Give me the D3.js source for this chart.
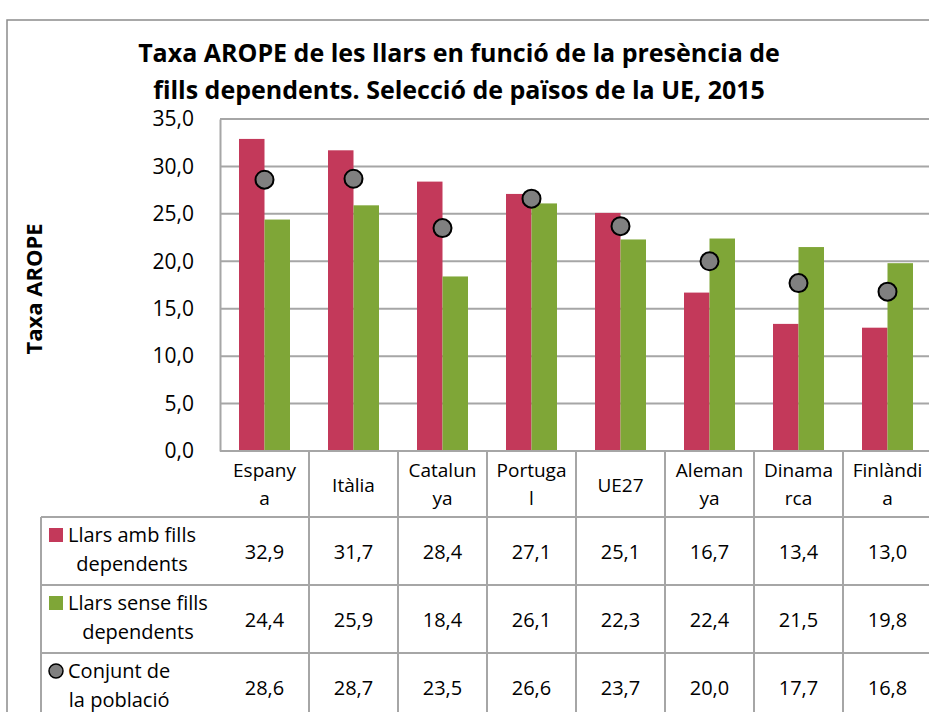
<!DOCTYPE html>
<html>
<head>
<meta charset="utf-8">
<script src="https://cdn.jsdelivr.net/npm/d3@7"></script>
<style>
  body { margin: 0; background: #fff; }
  svg { display: block; font-family: "Open Sans", sans-serif; }
</style>
</head>
<body>
<div id="chart"></div>
<script>
// data
const countries = ["Espanya", "Itàlia", "Catalunya", "Portugal", "UE27", "Alemanya", "Dinamarca", "Finlàndia"];
const countryLines = [["Espany", "a"], ["Itàlia"], ["Catalun", "ya"], ["Portuga", "l"], ["UE27"], ["Aleman", "ya"], ["Dinama", "rca"], ["Finlàndi", "a"]];
const ambFills = [32.9, 31.7, 28.4, 27.1, 25.1, 16.7, 13.4, 13.0];
const senseFills = [24.4, 25.9, 18.4, 26.1, 22.3, 22.4, 21.5, 19.8];
const conjunt = [28.6, 28.7, 23.5, 26.6, 23.7, 20.0, 17.7, 16.8];
const yTicks = [0, 5, 10, 15, 20, 25, 30, 35];
const seriesNames = [["Llars amb fills", "dependents"], ["Llars sense fills", "dependents"], ["Conjunt de", "la població"]];

const W = 929, H = 712;
const red = "#C3395A", green = "#7FA637", dot = "#808080", grid = "#A6A6A6";

const cat = d3.formatLocale({decimal: ",", thousands: ".", grouping: [3], currency: ["", "€"]});
const fmt = cat.format(".1f");

const svg = d3.select("#chart").append("svg")
  .attr("width", W).attr("height", H);

// outer frame (cropped on the right and bottom)
svg.append("path")
  .attr("d", `M7,${H}V20H${W}`)
  .attr("fill", "none").attr("stroke", "#8C8C8C").attr("stroke-width", 1.5);

// title
const title = svg.append("text")
  .attr("text-anchor", "middle")
  .style("font-size", "25px").style("font-weight", "bold").attr("fill", "#000");
title.append("tspan").attr("x", 459).attr("y", 62).text("Taxa AROPE de les llars en funció de la presència de");
title.append("tspan").attr("x", 459).attr("y", 99).text("fills dependents. Selecció de països de la UE, 2015");

// scales
const x = d3.scaleBand().domain(countries).range([220, 932]);
const y = d3.scaleLinear().domain([0, 35]).range([451, 119]);
const xs = d3.scaleBand().domain(["amb", "sense"])
  .range([x.bandwidth() / 2 - 25.5, x.bandwidth() / 2 + 25.5]);

// gridlines
svg.append("g").selectAll("line").data(yTicks.filter(d => d > 0)).join("line")
  .attr("x1", 220).attr("x2", 932)
  .attr("y1", d => y(d)).attr("y2", d => y(d))
  .attr("stroke", grid).attr("stroke-width", 2);

// y axis
const yAxis = svg.append("g")
  .attr("transform", "translate(220,0)")
  .call(d3.axisLeft(y).tickValues(yTicks).tickFormat(fmt).tickSize(0).tickPadding(26));
yAxis.select(".domain").attr("stroke", grid).attr("stroke-width", 2);
yAxis.selectAll("text").style("font-size", "21px").style("font-family", "Open Sans, sans-serif").attr("fill", "#000");

svg.append("text")
  .attr("transform", "translate(42,289) rotate(-90)")
  .attr("text-anchor", "middle")
  .style("font-size", "22px").style("font-weight", "bold")
  .text("Taxa AROPE");

// bars
const groups = svg.append("g").selectAll("g").data(countries).join("g")
  .attr("transform", d => `translate(${x(d)},0)`);
groups.append("rect")
  .attr("x", xs("amb")).attr("width", xs.bandwidth())
  .attr("y", (d, i) => y(ambFills[i])).attr("height", (d, i) => y(0) - y(ambFills[i]))
  .attr("fill", red);
groups.append("rect")
  .attr("x", xs("sense")).attr("width", xs.bandwidth())
  .attr("y", (d, i) => y(senseFills[i])).attr("height", (d, i) => y(0) - y(senseFills[i]))
  .attr("fill", green);
groups.append("circle")
  .attr("cx", x.bandwidth() / 2).attr("cy", (d, i) => y(conjunt[i]))
  .attr("r", 9).attr("fill", dot).attr("stroke", "#000").attr("stroke-width", 2);

// data table
const rowTops = [517, 585, 653];
const tbl = svg.append("g");
tbl.append("line").attr("x1", 220).attr("x2", 932).attr("y1", y(0)).attr("y2", y(0))
  .attr("stroke", grid).attr("stroke-width", 2);
rowTops.forEach(t => {
  tbl.append("line").attr("x1", 41).attr("x2", 932).attr("y1", t).attr("y2", t)
    .attr("stroke", grid).attr("stroke-width", 2);
});
tbl.append("line").attr("x1", 41).attr("x2", 41).attr("y1", 517).attr("y2", H)
  .attr("stroke", grid).attr("stroke-width", 2);
countries.forEach(c => {
  tbl.append("line").attr("x1", x(c) + x.bandwidth()).attr("x2", x(c) + x.bandwidth())
    .attr("y1", y(0)).attr("y2", H).attr("stroke", grid).attr("stroke-width", 2);
});

// header labels
countries.forEach((c, i) => {
  const lines = countryLines[i];
  const cx = x(c) + x.bandwidth() / 2;
  const t = tbl.append("text").attr("text-anchor", "middle").style("font-size", "19px");
  if (lines.length === 1) {
    t.append("tspan").attr("x", cx).attr("y", 492).text(lines[0]);
  } else {
    t.append("tspan").attr("x", cx).attr("y", 477).text(lines[0]);
    t.append("tspan").attr("x", cx).attr("y", 505).text(lines[1]);
  }
});

// values
[ambFills, senseFills, conjunt].forEach((vals, r) => {
  tbl.append("g").selectAll("text").data(countries).join("text")
    .attr("x", d => x(d) + x.bandwidth() / 2)
    .attr("y", rowTops[r] + 42)
    .attr("text-anchor", "middle").style("font-size", "20px")
    .text((d, i) => fmt(vals[i]));
});

// legend cells
seriesNames.forEach((lines, r) => {
  const top = rowTops[r];
  if (r < 2) {
    tbl.append("rect").attr("x", 49).attr("y", top + 11).attr("width", 14).attr("height", 14)
      .attr("fill", r === 0 ? red : green);
  } else {
    tbl.append("circle").attr("cx", 56).attr("cy", top + 18).attr("r", 7)
      .attr("fill", dot).attr("stroke", "#000").attr("stroke-width", 1.5);
  }
  const t = tbl.append("text").style("font-size", "20px").attr("text-anchor", "middle");
  const s1 = t.append("tspan").attr("y", top + 25).text(lines[0]);
  const s2 = t.append("tspan").attr("y", top + 54).text(lines[1]);
  const w = Math.max(s1.node().getComputedTextLength(), s2.node().getComputedTextLength());
  s1.attr("x", 68 + w / 2);
  s2.attr("x", 68 + w / 2);
});
</script>
</body>
</html>
